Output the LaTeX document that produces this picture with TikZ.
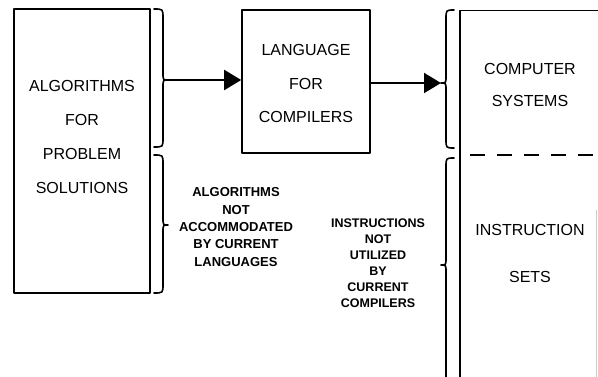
\documentclass[tikz,border=0pt]{standalone}
\usepackage{fontspec}
\setmainfont{Liberation Sans}
\usetikzlibrary{arrows.meta}
% curly brace: end x, spine x, tip x, top y, tip y, bottom y
\newcommand\curlybrace[6]{%
  \draw[bracestyle] (#1,#4) .. controls (#2,#4) .. (#2,#4+9)
    -- (#2,#5-7) .. controls (#2,#5) .. (#3,#5)
    .. controls (#2,#5) .. (#2,#5+7)
    -- (#2,#6-9) .. controls (#2,#6) .. (#1,#6);}
\begin{document}
\begin{tikzpicture}[x=1pt,y=-1pt,line join=round,
  box/.style={draw,line width=1.6pt,inner sep=0pt},
  bracestyle/.style={line width=1.6pt,line cap=round},
  flow/.style={line width=2pt,-{Triangle[length=17pt,width=20pt]}},
  big/.style={font=\fontsize{16}{34}\selectfont,align=center,inner sep=0pt,anchor=north},
  small/.style={font=\bfseries\fontsize{13}{17.3}\selectfont,align=center,inner sep=0pt,anchor=north}]
\clip (0,0) rectangle (598,377);

% boxes
\node[box,minimum width=136pt,minimum height=284pt] (alg) at (82,151) {};
\node[box,minimum width=128pt,minimum height=143pt] (lang) at (306,81.5) {};
\draw[line width=1.6pt] (460,390) -- (460,10.5) -- (600,10.5);
\draw[line width=1.6pt,dash pattern=on 15pt off 12pt] (470,155) -- (600,155);
\draw[gray!40,line width=0.6pt] (596.5,210) -- (596.5,380);

% box texts
\node[big] (algtext) at (82,80.5) {ALGORITHMS\\FOR\\PROBLEM\\SOLUTIONS};
\node[big,font=\fontsize{16}{33.5}\selectfont] (langtext) at (306,44.5) {LANGUAGE\\FOR\\COMPILERS};
\node[big,font=\fontsize{16}{32}\selectfont] (comptext) at (530,63.5) {COMPUTER\\SYSTEMS};
\node[big,font=\fontsize{16}{47}\selectfont] (insttext) at (530,224.5) {INSTRUCTION\\SETS};

% braces
\curlybrace{154}{163}{168}{9}{80}{147}
\curlybrace{154}{163}{168}{155}{225}{293}
\curlybrace{454}{446}{441}{10}{83}{148}
\curlybrace{454}{446}{441}{158}{265}{400}

% side notes
\node[small] (notalg) at (236,187.7) {ALGORITHMS\\NOT\\ACCOMMODATED\\BY CURRENT\\LANGUAGES};
\node[small,font=\bfseries\fontsize{12.5}{16}\selectfont] (notinst) at (378,219) {INSTRUCTIONS\\NOT\\UTILIZED\\BY\\CURRENT\\COMPILERS};

% flow arrows
\coordinate (ltip) at (168,80);
\coordinate (rtip) at (441,83);
\draw[flow] (ltip) -- (lang.west |- ltip);
\draw[flow] (lang.east |- rtip) -- (rtip);
\end{tikzpicture}
\end{document}
